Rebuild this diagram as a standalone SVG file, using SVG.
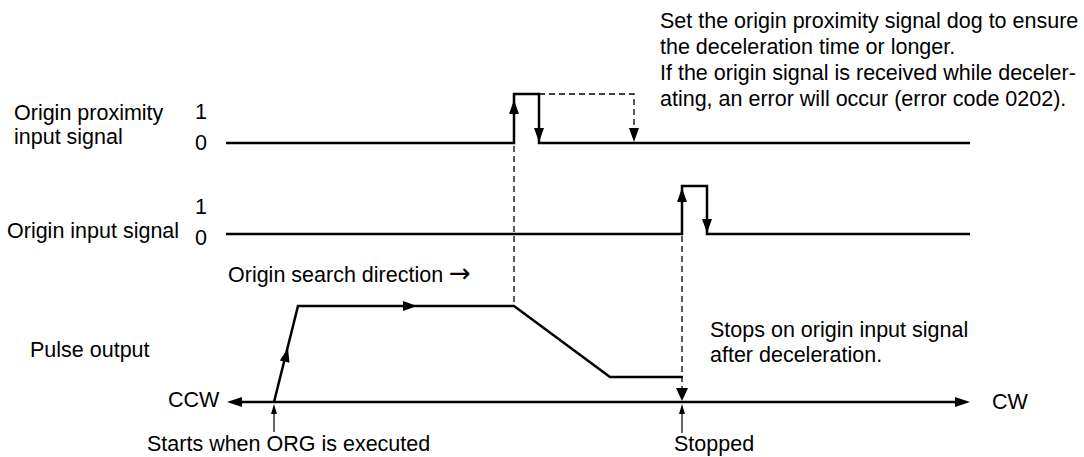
<svg xmlns="http://www.w3.org/2000/svg" width="1084" height="457" viewBox="0 0 1084 457">
<style>
text{font-family:"Liberation Sans",Arial,sans-serif;font-size:21.5px;fill:#000}
.sig{fill:none;stroke:#000;stroke-width:2.5;stroke-linejoin:miter}
.dash{fill:none;stroke:#000;stroke-width:1.3;stroke-dasharray:6 4}
.thin{fill:none;stroke:#000;stroke-width:1.2}
.ah{fill:#000;stroke:none}
</style>
<rect width="1084" height="457" fill="#fff"/>
<g id="note">
<text x="660" y="28">Set the origin proximity signal dog to ensure</text>
<text x="660" y="54">the deceleration time or longer.</text>
<text x="660" y="80">If the origin signal is received while deceler-</text>
<text x="660" y="106">ating, an error will occur (error code 0202).</text>
</g>
<g id="proximity-signal">
<text x="14" y="120">Origin proximity</text>
<text x="14" y="144">input signal</text>
<text x="195" y="119">1</text>
<text x="195" y="150">0</text>
<path class="sig" d="M226,143 H514 V94 H539 V143 H970"/>
<polygon class="ah" points="514,100 509,114 519,114"/>
<polygon class="ah" points="539,142 534,128 544,128"/>
</g>
<g id="origin-signal">
<text x="7" y="238">Origin input signal</text>
<text x="195" y="214">1</text>
<text x="195" y="245">0</text>
<path class="sig" d="M226,234 H682 V186 H707 V234 H970"/>
<polygon class="ah" points="682,188 677,202 687,202"/>
<polygon class="ah" points="707,233 702,219 712,219"/>
</g>
<g id="pulse-output">
<text x="30" y="357">Pulse output</text>
<text x="228" y="282">Origin search direction <tspan style="font-family:'DejaVu Sans',sans-serif;font-size:26px">→</tspan></text>
<path class="sig" d="M274,402 L298,306 H514 L610,377 H683"/>
<polygon class="ah" points="288,348 289.5,362.8 279.8,360.4"/>
<polygon class="ah" points="417,306 403,301 403,311"/>
</g>
<g id="axis">
<text x="168" y="407">CCW</text>
<text x="992" y="409">CW</text>
<path class="sig" d="M235,402 H962"/>
<polygon class="ah" points="227,402 242,397 242,407"/>
<polygon class="ah" points="970,402 955,397 955,407"/>
</g>
<g id="labels">
<text x="710" y="337">Stops on origin input signal</text>
<text x="710" y="362">after deceleration.</text>
<text x="147" y="451">Starts when ORG is executed</text>
<text x="674" y="451">Stopped</text>
</g>
<g id="connectors">
<path class="dash" d="M539,94 H634 V130"/>
<polygon class="ah" points="634,142 629,128 639,128"/>
<path class="dash" d="M514,146 V306"/>
<path class="dash" d="M682,236 V390"/>
<polygon class="ah" points="682,401 676,388 688,388"/>
<path class="thin" d="M274,432 V410"/>
<polygon class="ah" points="274,404 271,414 277,414"/>
<path class="thin" d="M682,433 V410"/>
<polygon class="ah" points="682,404 679,414 685,414"/>
</g>
</svg>
